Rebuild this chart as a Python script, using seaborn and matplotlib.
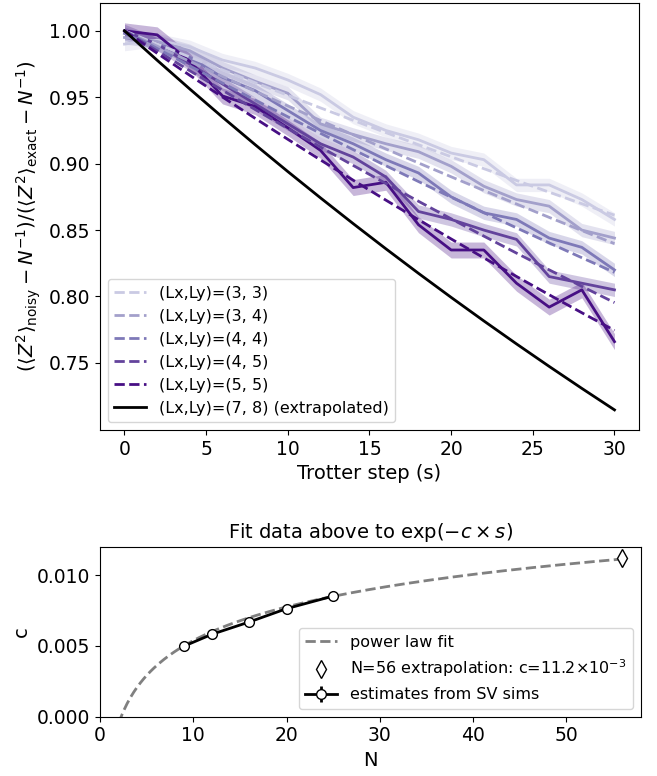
import numpy as np
import pandas as pd
import matplotlib
matplotlib.use("Agg")
import matplotlib.pyplot as plt
import seaborn as sns

# ---------------- data ----------------
steps = list(range(0, 31, 2))
lattice_labels = ["(3, 3)", "(3, 4)", "(4, 4)", "(4, 5)", "(5, 5)"]
N_sizes = [9, 12, 16, 20, 25]

ratio_33 = [0.990, 0.993, 0.988, 0.978, 0.972, 0.963, 0.952, 0.935, 0.925, 0.918, 0.908, 0.903, 0.884, 0.884, 0.873, 0.858]
ratio_34 = [0.995, 0.992, 0.985, 0.972, 0.962, 0.953, 0.930, 0.922, 0.915, 0.909, 0.898, 0.883, 0.873, 0.868, 0.850, 0.844]
ratio_44 = [0.998, 0.990, 0.980, 0.965, 0.955, 0.940, 0.925, 0.915, 0.903, 0.893, 0.875, 0.863, 0.858, 0.844, 0.837, 0.820]
ratio_45 = [1.000, 0.990, 0.975, 0.960, 0.945, 0.930, 0.915, 0.905, 0.890, 0.864, 0.858, 0.850, 0.843, 0.815, 0.810, 0.805]
ratio_55 = [1.000, 0.997, 0.977, 0.951, 0.943, 0.927, 0.910, 0.882, 0.886, 0.854, 0.835, 0.835, 0.810, 0.792, 0.805, 0.766]
ratio_err = [0.005, 0.005, 0.005, 0.005, 0.006]

c_estimates = [0.00498, 0.00582, 0.00669, 0.00763, 0.00852]
c_errors = [0.00005, 0.00005, 0.00005, 0.00005, 0.00005]
N_extrap = 56
c_extrap = 0.0112
extrap_label = "(7, 8)"
# power-law fit parameters: c = a * N**b + d
fit_a, fit_b, fit_d = -0.0783, -0.05, 0.07516

series = [ratio_33, ratio_34, ratio_44, ratio_45, ratio_55]

# ---------------- figure ----------------
fig = plt.figure(figsize=(6.57, 7.76), dpi=100)
ax1 = fig.add_axes([0.1522, 0.4459, 0.8204, 0.5503])
ax2 = fig.add_axes([0.1522, 0.0764, 0.8234, 0.2190])

TICK = 13.5
LAB = 14
LEG = 11.5

colors = [plt.cm.Purples(v) for v in np.linspace(0.32, 0.95, 5)]

rows = []
for lab, vals in zip(lattice_labels, series):
    for s, v in zip(steps, vals):
        rows.append({"s": s, "ratio": v, "lattice": lab})
df = pd.DataFrame(rows)

sns.lineplot(data=df, x="s", y="ratio", hue="lattice", palette=colors,
             lw=2, legend=False, ax=ax1, errorbar=None)
s_arr = np.array(steps, dtype=float)
for vals, e, col in zip(series, ratio_err, colors):
    v = np.array(vals)
    ax1.fill_between(s_arr, v - e, v + e, color=col, alpha=0.3, lw=0)

fit_rows = []
for lab, c in zip(lattice_labels, c_estimates):
    for s in steps:
        fit_rows.append({"s": s, "fit": np.exp(-c * s), "lattice": lab})
fdf = pd.DataFrame(fit_rows)
for lab, col in zip(lattice_labels, colors):
    sub = fdf[fdf["lattice"] == lab]
    sns.lineplot(data=sub, x="s", y="fit", color=col, lw=2, ls="--",
                 label=f"(Lx,Ly)={lab}", ax=ax1)
ax1.plot(s_arr, np.exp(-c_extrap * s_arr), color="k", lw=2,
         label=f"(Lx,Ly)={extrap_label} (extrapolated)")

ax1.set_xlim(-1.5, 31.5)
ax1.set_ylim(0.6995, 1.021)
ax1.set_xticks([0, 5, 10, 15, 20, 25, 30])
ax1.set_yticks([0.75, 0.80, 0.85, 0.90, 0.95, 1.00])
ax1.tick_params(labelsize=TICK)
ax1.set_xlabel("Trotter step (s)", fontsize=LAB)
ax1.set_ylabel(r"$(\langle Z^2\rangle_{\rm noisy}-N^{-1})/(\langle Z^2\rangle_{\rm exact}-N^{-1})$", fontsize=LAB)
ax1.legend(loc="lower left", fontsize=LEG)

# ---------------- bottom ----------------
N_grid = np.linspace(2.0, N_extrap, 300)
sns.lineplot(x=N_grid, y=fit_a * N_grid ** fit_b + fit_d, color="gray", ls="--",
             lw=2, label="power law fit", ax=ax2)
ax2.plot([N_extrap], [c_extrap], marker="d", ls="none", mfc="white", mec="k",
         ms=9, label=r"N=56 extrapolation: c=11.2$\times10^{-3}$")
ax2.errorbar(N_sizes, c_estimates, yerr=c_errors, color="k", marker="o",
             mfc="white", mec="k", ms=7, lw=2, label="estimates from SV sims")
ax2.set_xlim(0, 58)
ax2.set_ylim(0, 0.012)
ax2.set_xticks([0, 10, 20, 30, 40, 50])
ax2.set_yticks([0.0, 0.005, 0.010])
ax2.set_yticklabels(["0.000", "0.005", "0.010"])
ax2.tick_params(labelsize=TICK)
ax2.set_xlabel("N", fontsize=LAB)
ax2.set_ylabel("c", fontsize=LAB)
ax2.set_title(r"Fit data above to $\exp(-c\times s)$", fontsize=LAB)
ax2.legend(loc="lower right", fontsize=LEG)

fig.savefig("out.png", dpi=100)
